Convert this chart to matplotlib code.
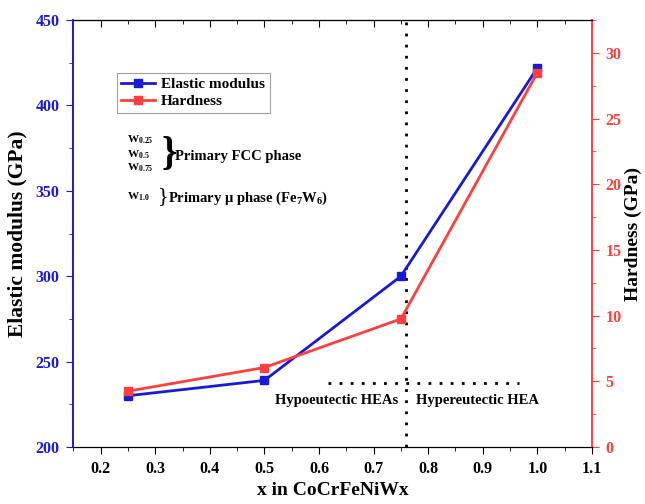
import matplotlib
matplotlib.use("Agg")
import matplotlib.pyplot as plt
from matplotlib.ticker import MultipleLocator, FormatStrFormatter

plt.rcParams['font.family'] = ['Liberation Serif', 'DejaVu Serif']
plt.rcParams['font.weight'] = 'bold'
plt.rcParams['mathtext.fontset'] = 'custom'
plt.rcParams['mathtext.rm'] = 'Liberation Serif:bold'
plt.rcParams['mathtext.it'] = 'Liberation Serif:bold'
plt.rcParams['mathtext.bf'] = 'Liberation Serif:bold'

# --- dados ---
x_vals = [0.25, 0.5, 0.75, 1.0]
elastic_modulus = [230, 239, 300, 422]
hardness = [4.25, 6.05, 9.75, 28.5]

blue = '#1a1ad6'
red = '#ff4040'

fig = plt.figure(figsize=(6.45, 5.04), dpi=100)
ax = fig.add_axes([0.1137, 0.1131, 0.8041, 0.8472])
ax2 = ax.twinx()

l1, = ax.plot(x_vals, elastic_modulus, color=blue, lw=2, marker='s', ms=5.5, label='Elastic modulus', zorder=3)
l2, = ax2.plot(x_vals, hardness, color=red, lw=2, marker='s', ms=5.5, label='Hardness', zorder=3)

ax.set_xlim(0.15, 1.1)
ax.set_ylim(200, 450)
ax2.set_ylim(0, 32.5)

ax.xaxis.set_major_locator(MultipleLocator(0.1))
ax.xaxis.set_minor_locator(MultipleLocator(0.05))
ax.xaxis.set_major_formatter(FormatStrFormatter('%.1f'))
ax.yaxis.set_major_locator(MultipleLocator(50))
ax.yaxis.set_minor_locator(MultipleLocator(25))
ax2.yaxis.set_major_locator(MultipleLocator(5))
ax2.yaxis.set_minor_locator(MultipleLocator(2.5))

ax.tick_params(axis='x', which='both', direction='out', labelsize=11.5, pad=5)
ax.tick_params(axis='x', which='major', length=5)
ax.tick_params(axis='x', which='minor', length=3)
ax.tick_params(axis='y', which='both', colors=blue, labelsize=11.5, pad=5)
ax.tick_params(axis='y', which='major', length=5)
ax.tick_params(axis='y', which='minor', length=3)
ax2.tick_params(axis='y', which='both', colors=red, labelsize=11.5, pad=5)
ax2.tick_params(axis='y', which='major', length=5)
ax2.tick_params(axis='y', which='minor', length=3)

# ticks do topo para dentro
secx = ax.secondary_xaxis('top')
secx.xaxis.set_major_locator(MultipleLocator(0.1))
secx.xaxis.set_minor_locator(MultipleLocator(0.05))
secx.tick_params(which='both', direction='in', labeltop=False)
secx.tick_params(which='major', length=5)
secx.tick_params(which='minor', length=3)

for a in (ax, ax2):
    a.spines['left'].set_color(blue)
    a.spines['right'].set_color(red)
    a.spines['left'].set_linewidth(1.2)
    a.spines['right'].set_linewidth(1.2)

ax.set_xlabel('x in CoCrFeNiWx', fontsize=14, fontweight='bold', labelpad=4)
ax.set_ylabel('Elastic modulus (GPa)', fontsize=15.5, fontweight='bold', labelpad=6)
ax2.set_ylabel('Hardness (GPa)', fontsize=14, fontweight='bold', labelpad=2)

# linhas pontilhadas
ax.axvline(0.76, color='black', ls=(0, (1, 3)), lw=2)
ax.plot([0.617, 0.967], [237.5, 237.5], color='black', ls=(0, (1, 3)), lw=2)
ax.text(0.745, 231, 'Hypoeutectic HEAs', ha='right', va='top', fontsize=10.5, fontweight='bold')
ax.text(0.778, 231, 'Hypereutectic HEA', ha='left', va='top', fontsize=10.5, fontweight='bold')

leg = ax.legend(handles=[l1, l2], loc='upper left', bbox_to_anchor=(0.084, 0.876),
                borderaxespad=0, fontsize=11, frameon=True, fancybox=False, edgecolor='#888888',
                handlelength=2.2, borderpad=0.3, labelspacing=0.2, handletextpad=0.4)
leg.get_frame().set_linewidth(0.8)

# anotações de fases
tr = ax.transAxes
def px(xp, yp):
    return ((xp - 73.3) / 518.7, (447 - yp) / 427)

for lab, yp in [(r'$\mathrm{W_{0.25}}$', 140), (r'$\mathrm{W_{0.5}}$', 155), (r'$\mathrm{W_{0.75}}$', 168), (r'$\mathrm{W_{1.0}}$', 197)]:
    xx, yy = px(127, yp)
    ax.text(xx, yy, lab, transform=tr, fontsize=8, va='center', ha='left')

xx, yy = px(161, 154)
ax.text(xx, yy, '}', transform=tr, fontsize=28, va='center', ha='left', fontweight='bold')
xx, yy = px(175, 156)
ax.text(xx, yy, 'Primary FCC phase', transform=tr, fontsize=10.5, va='center', ha='left')
xx, yy = px(158, 197)
ax.text(xx, yy, '}', transform=tr, fontsize=16, va='center', ha='left', fontweight='normal')
xx, yy = px(168, 198)
ax.text(xx, yy, r'Primary μ phase (Fe$_7$W$_6$)', transform=tr, fontsize=10.5, va='center', ha='left')

fig.savefig('out.png', dpi=100)
